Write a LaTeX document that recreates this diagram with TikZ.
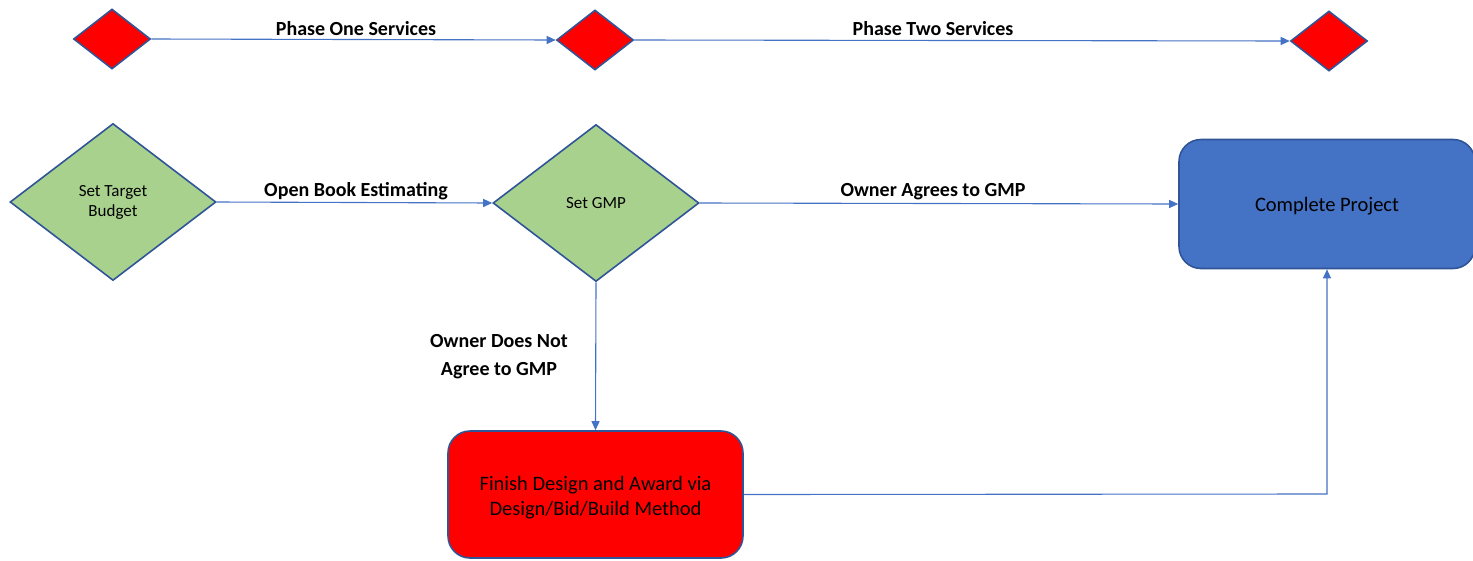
\documentclass[tikz,border=0pt]{standalone}
\usepackage{fontspec}
\setmainfont{Carlito}
\usetikzlibrary{shapes.geometric,arrows.meta}
\definecolor{bord}{HTML}{2F5597}
\definecolor{conn}{HTML}{4472C4}
\definecolor{gfill}{HTML}{A9D18E}
\definecolor{bfill}{HTML}{4472C4}
\tikzset{
  conline/.style={draw=conn, line width=1.1pt, -{Triangle[width=8pt,length=9pt]}},
  reddia/.style={diamond, draw=bord, line width=1.6pt, fill=red, inner sep=0pt, minimum width=77pt, minimum height=60pt},
  greendia/.style={diamond, draw=bord, line width=1.6pt, fill=gfill, inner sep=0pt, minimum width=206pt, minimum height=157pt, align=center, font=\fontsize{17}{20}\selectfont},
  rbox/.style={rectangle, rounded corners=22pt, draw=bord, line width=1.6pt, align=center, font=\fontsize{20.5}{25}\selectfont},
  lbl/.style={font=\bfseries\fontsize{20}{28}\selectfont, align=center}
}
\begin{document}
\begin{tikzpicture}[x=1pt,y=-1pt]
\useasboundingbox (0,0) rectangle (1473,560);
\node[reddia] (d1) at (112,39) {};
\node[reddia] (d2) at (595,40) {};
\node[reddia] (d3) at (1329,41) {};
\node[greendia] (stb) at (113,202) {Set Target\\Budget};
\node[greendia] (gmp) at (596,203) {Set GMP};
\node[rbox, fill=bfill, minimum width=296pt, minimum height=129pt] (cp) at (1327,204) {};
\node[font=\fontsize{20.5}{25}\selectfont] (cpt) at (1327,206) {Complete Project};
\node[rbox, fill=red, minimum width=295pt, minimum height=127pt] (fd) at (595.5,494.5) {};
\node[align=center, font=\fontsize{20.5}{25}\selectfont] (fdt) at (595.5,497.5) {Finish Design and Award via\\Design/Bid/Build Method};
\draw[conline] (d1.east) -- (d2.west);
\draw[conline] (d2.east) -- (d3.west);
\draw[conline] (stb.east) -- (gmp.west);
\draw[conline] (gmp.east) -- (cp.west);
\draw[conline] (gmp.south) -- (fd.north);
\coordinate (corner) at (1327,494);
\draw[conline] (fd.east) -- (corner) -- (cp.south);
\node[lbl] (l1) at (356,28.5) {Phase One Services};
\node[lbl] (l2) at (933,28.5) {Phase Two Services};
\node[lbl] (l3) at (356,191.5) {Open Book Estimating};
\node[lbl] (l4) at (933,191.5) {Owner Agrees to GMP};
\node[lbl] (l5) at (499,357) {Owner Does Not\\Agree to GMP};
\end{tikzpicture}
\end{document}
